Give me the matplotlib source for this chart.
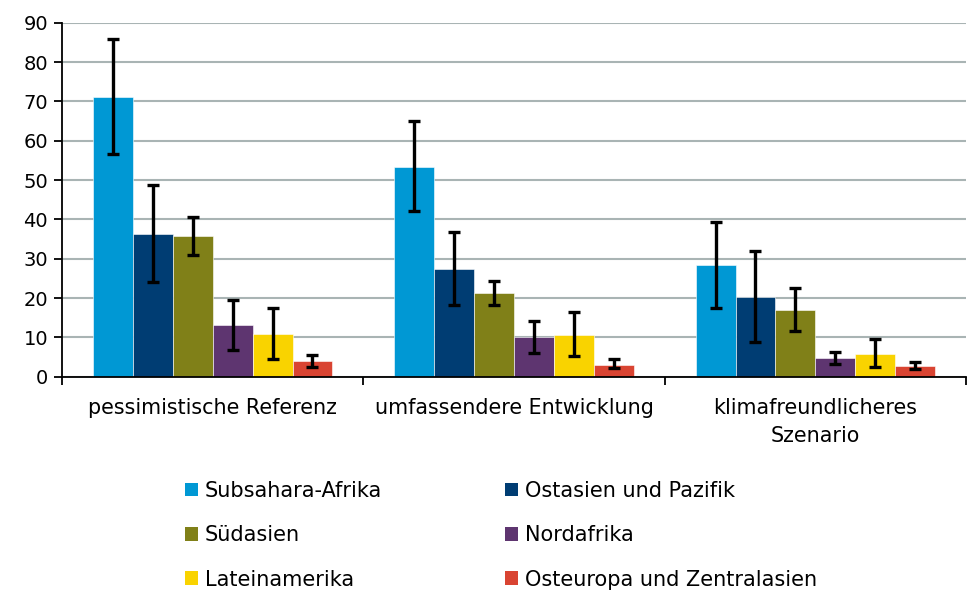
import numpy as np
import matplotlib
matplotlib.use("Agg")
import matplotlib.pyplot as plt
from matplotlib.patches import Patch

# scenarios on the x axis
scenarios = ["pessimistische Referenz", "umfassendere Entwicklung",
             "klimafreundlicheres\nSzenario"]

regions = ["Subsahara-Afrika", "Ostasien und Pazifik", "Südasien",
           "Nordafrika", "Lateinamerika", "Osteuropa und Zentralasien"]
colors = ["#0098D4", "#003D73", "#808018", "#5E3570", "#F9D300", "#D94432"]

# bar values per region (one value per scenario)
subsahara = [71.2, 53.4, 28.4]
ostasien = [36.3, 27.3, 20.3]
suedasien = [35.8, 21.2, 17.0]
nordafrika = [13.1, 10.1, 4.7]
lateinamerika = [10.9, 10.7, 5.9]
osteuropa = [3.9, 3.1, 2.8]

# lower / upper ends of the error bars
subsahara_lo = [56.6, 42.1, 17.5]
subsahara_hi = [85.9, 64.9, 39.4]
ostasien_lo = [24.2, 18.3, 8.7]
ostasien_hi = [48.7, 36.7, 32.0]
suedasien_lo = [31.0, 18.3, 11.6]
suedasien_hi = [40.7, 24.3, 22.6]
nordafrika_lo = [6.8, 6.1, 3.2]
nordafrika_hi = [19.5, 14.2, 6.4]
lateinamerika_lo = [4.4, 5.2, 2.4]
lateinamerika_hi = [17.4, 16.5, 9.7]
osteuropa_lo = [2.5, 2.1, 1.9]
osteuropa_hi = [5.5, 4.4, 3.8]

values = [subsahara, ostasien, suedasien, nordafrika, lateinamerika, osteuropa]
lows = [subsahara_lo, ostasien_lo, suedasien_lo, nordafrika_lo, lateinamerika_lo, osteuropa_lo]
highs = [subsahara_hi, ostasien_hi, suedasien_hi, nordafrika_hi, lateinamerika_hi, osteuropa_hi]

plt.rcParams['font.family'] = ['DejaVu Sans']
fig = plt.figure(figsize=(9.68, 5.9), dpi=100)
ax = fig.add_axes([0.064, 0.3615, 0.934, 0.6])

x = np.arange(len(scenarios))
n = len(regions)
w = 0.795 / n
for i in range(n):
    v = np.array(values[i])
    err = np.vstack([v - np.array(lows[i]), np.array(highs[i]) - v])
    pos = x - 0.795 / 2 + w * (i + 0.5)
    ax.bar(pos, v, width=w, color=colors[i], edgecolor="white", linewidth=0.4, zorder=2)
    ax.errorbar(pos, v, yerr=err, fmt="none", ecolor="black", elinewidth=2.4,
                capsize=4.5, capthick=2.4, zorder=3)

ax.set_xlim(-0.5, len(scenarios) - 0.5)
ax.set_ylim(0, 90)
ax.set_yticks(np.arange(0, 91, 10))
ax.yaxis.grid(True, color="#A9B4B4", linewidth=1.5, zorder=0)
ax.set_axisbelow(True)
ax.tick_params(axis="y", labelsize=14, length=6, width=1.3, direction="out", pad=4)

ax.set_xticks(np.arange(-0.5, len(scenarios)), minor=False)
ax.set_xticklabels([])
ax.set_xticks(x, minor=True)
labels = ax.set_xticklabels(scenarios, minor=True, fontsize=14.9)
for t in labels:
    t.set_linespacing(1.5)
ax.tick_params(axis="x", which="major", length=6, width=1.3, direction="out")
ax.tick_params(axis="x", which="minor", length=0, pad=15)

for s in ["top", "right"]:
    ax.spines[s].set_visible(False)
ax.spines["left"].set_linewidth(1.3)
ax.spines["bottom"].set_linewidth(1.3)

handles = [Patch(facecolor=c, edgecolor="none") for c in colors]
order = [0, 2, 4, 1, 3, 5]
fig.legend([handles[k] for k in order], [regions[k] for k in order],
           ncol=2, loc="upper left", bbox_to_anchor=(0.191, 0.185),
           frameon=False, fontsize=15, handlelength=0.63, handleheight=0.63,
           handletextpad=0.34, columnspacing=5.9, labelspacing=1.17,
           borderaxespad=0, borderpad=0)

fig.savefig("out.png", dpi=100)
